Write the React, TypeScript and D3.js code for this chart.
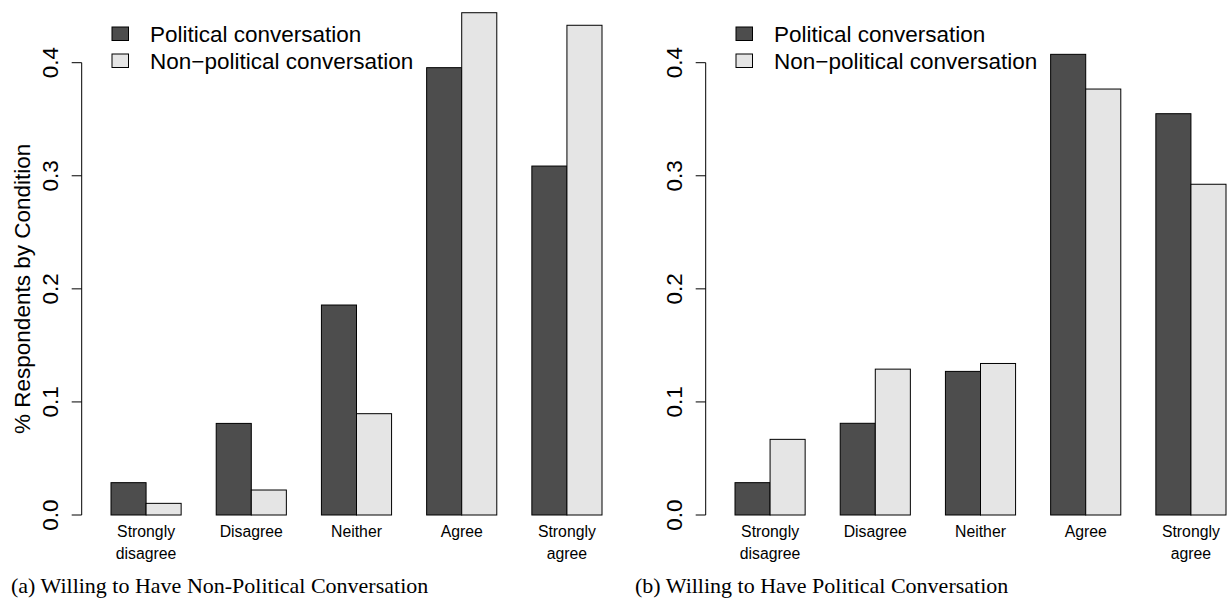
import React from "react";
import * as d3 from "d3";

const categories = ["Strongly disagree", "Disagree", "Neither", "Agree", "Strongly agree"];
const categoryLines = [["Strongly", "disagree"], ["Disagree"], ["Neither"], ["Agree"], ["Strongly", "agree"]];
const seriesNames = ["Political conversation", "Non\u2212political conversation"];

// Panel (a): Willing to Have Non-Political Conversation
const panelAPolitical = [0.0286, 0.081, 0.1857, 0.3956, 0.3086];
const panelANonPolitical = [0.0103, 0.0221, 0.0896, 0.4442, 0.4331];

// Panel (b): Willing to Have Political Conversation
const panelBPolitical = [0.0286, 0.0811, 0.127, 0.4074, 0.3549];
const panelBNonPolitical = [0.0669, 0.129, 0.134, 0.3767, 0.2925];

const yTicks = [0, 0.1, 0.2, 0.3, 0.4];
const captions = [
  "(a) Willing to Have Non-Political Conversation",
  "(b) Willing to Have Political Conversation",
];
const yTitle = "% Respondents by Condition";

const COLORS = ["#4d4d4d", "#e5e5e5"];
const W = 1228;
const H = 605;
const PANEL_OFFSET = 624;
const SANS = "'Liberation Sans', Arial, Helvetica, sans-serif";
const SERIF = "'Liberation Serif', 'Times New Roman', serif";

function Panel({ dx, political, nonPolitical, caption, showTitle }: any) {
  const y = d3.scaleLinear().domain([0, 0.4]).range([515, 62.7]);
  const x0 = d3.scaleBand().domain(categories).range([111 + dx, 602 + dx]).paddingInner(1 / 3).paddingOuter(0);
  const x1 = d3.scaleBand().domain(seriesNames).range([0, x0.bandwidth()]).padding(0);
  const axisX = 81.7 + dx;
  const fmt = d3.format(".1f");
  const series = [political, nonPolitical];
  return (
    <g>
      {/* bars */}
      {categories.map((c, i) => (
        <g key={c}>
          {seriesNames.map((s, j) => {
            const v = series[j][i];
            return (
              <rect
                key={s}
                x={(x0(c) as number) + (x1(s) as number)}
                y={y(v)}
                width={x1.bandwidth()}
                height={y(0) - y(v)}
                fill={COLORS[j]}
                stroke="#000"
                strokeWidth={1}
              />
            );
          })}
        </g>
      ))}
      {/* y axis */}
      <line x1={axisX} x2={axisX} y1={y(0)} y2={y(0.4)} stroke="#000" strokeWidth={1} />
      {yTicks.map((t) => (
        <g key={t}>
          <line x1={axisX - 10} x2={axisX} y1={y(t)} y2={y(t)} stroke="#000" strokeWidth={1} />
          <text
            transform={`translate(${axisX - 23.4},${y(t)}) rotate(-90)`}
            textAnchor="middle"
            fontFamily={SANS}
            fontSize={22.5}
            fill="#000"
          >
            {fmt(t)}
          </text>
        </g>
      ))}
      {/* category labels */}
      {categories.map((c, i) => (
        <text
          key={c}
          x={(x0(c) as number) + x0.bandwidth() / 2}
          y={537}
          textAnchor="middle"
          fontFamily={SANS}
          fontSize={15.8}
          fill="#000"
        >
          {categoryLines[i].map((ln, k) => (
            <tspan key={k} x={(x0(c) as number) + x0.bandwidth() / 2} dy={k === 0 ? 0 : 22}>
              {ln}
            </tspan>
          ))}
        </text>
      ))}
      {/* legend */}
      {seriesNames.map((s, j) => (
        <g key={s}>
          <rect x={112 + dx} y={27 + j * 27} width={16.5} height={13.5} fill={COLORS[j]} stroke="#000" strokeWidth={1} />
          <text x={150 + dx} y={41.5 + j * 27} fontFamily={SANS} fontSize={22.5} fill="#000">
            {s}
          </text>
        </g>
      ))}
      {showTitle && (
        <text
          transform={`translate(30,${(y(0) + y(0.4)) / 2}) rotate(-90)`}
          textAnchor="middle"
          fontFamily={SANS}
          fontSize={22.5}
          fill="#000"
        >
          {yTitle}
        </text>
      )}
      {/* caption */}
      <text x={11 + dx} y={593} fontFamily={SERIF} fontSize={22} fill="#000">
        {caption}
      </text>
    </g>
  );
}

export default function App() {
  return (
    <svg
      width={W}
      height={H}
      viewBox={`0 0 ${W} ${H}`}
      style={{ position: "absolute", left: 0, top: 0, background: "#fff" }}
    >
      <rect x={0} y={0} width={W} height={H} fill="#fff" />
      <Panel dx={0} political={panelAPolitical} nonPolitical={panelANonPolitical} caption={captions[0]} showTitle={true} />
      <Panel dx={PANEL_OFFSET} political={panelBPolitical} nonPolitical={panelBNonPolitical} caption={captions[1]} showTitle={false} />
    </svg>
  );
}
